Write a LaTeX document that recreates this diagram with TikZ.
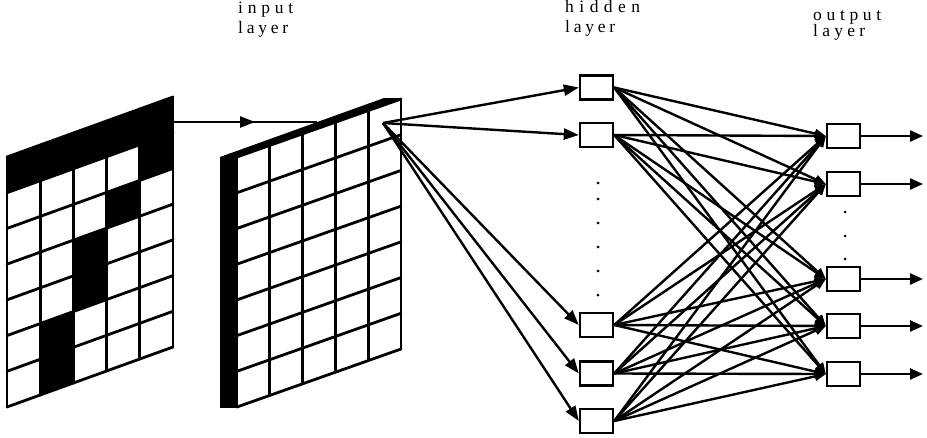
\documentclass[tikz,border=0pt]{standalone}
\usepackage{fontspec}
\setmainfont{Liberation Serif}
\usetikzlibrary{arrows.meta,decorations.markings}
\tikzset{
 unit/.style={draw, line width=2.4pt, minimum width=33pt, minimum height=24pt, inner sep=0pt, fill=white},
 conn/.style={line width=2.4pt},
 inarrow/.style={conn, -{Triangle[length=15pt,width=11pt]}},
 hoarrow/.style={conn, -{Triangle[length=11pt,width=9pt]}},
 outarrow/.style={conn, -{Triangle[length=13pt,width=11pt]}},
 lbl/.style={anchor=base west, inner sep=0pt, font=\fontsize{17.5}{19}\selectfont},
 gridline/.style={line width=2.8pt, line cap=round, line join=round},
 dotmark/.style={circle, fill=black, inner sep=0pt, minimum size=3pt},
}
\newcommand{\spacedword}[2]{\makebox[#1][s]{#2}}
\begin{document}
\begin{tikzpicture}[x=1pt,y=-1pt]
\useasboundingbox (0,0) rectangle (927,437);
% ---------- left (raw) grid ----------
\foreach \c/\r in {0/0,1/0,2/0,3/0,4/0,4/1,3/2,2/3,2/4,1/5,1/6} {
  \fill ({7+33.2*\c},{157-12*\c+35.714*\r}) -- ({7+33.2*(\c+1)},{157-12*(\c+1)+35.714*\r})
     -- ({7+33.2*(\c+1)},{157-12*(\c+1)+35.714*(\r+1)}) -- ({7+33.2*\c},{157-12*\c+35.714*(\r+1)}) -- cycle;
}
\foreach \c in {0,...,5} \draw[gridline] ({7+33.2*\c},{157-12*\c}) -- ({7+33.2*\c},{407-12*\c});
\foreach \r in {0,...,7} \draw[gridline] (7,{157+35.714*\r}) -- (173,{97+35.714*\r});
% ---------- input slab ----------
\fill (220,157) -- (237,157) -- (237,408) -- (220,408) -- cycle;
\fill (220,157) -- (384,98) -- (401,98) -- (237,157) -- cycle;
\foreach \c in {0,...,5} \draw[gridline] ({237+32.8*\c},{157-11.6*\c}) -- ({237+32.8*\c},{407-11.6*\c});
\foreach \r in {0,...,7} \draw[gridline] (237,{157+35.714*\r}) -- (401,{99+35.714*\r});
% ---------- arrow raw -> input ----------
\coordinate (la) at (173,122);
\coordinate (lb) at (317,122);
\draw[conn, postaction={decorate}, decoration={markings, mark=at position 0.57 with {\arrow{Triangle[length=15pt,width=11pt]}}}] (la) -- (lb);
% ---------- hidden and output units ----------
\node[unit] (h1) at (596.5,87.5) {};
\node[unit] (h2) at (596.5,135) {};
\node[unit] (h3) at (596.5,325) {};
\node[unit] (h4) at (596.5,373.5) {};
\node[unit] (h5) at (596.5,421) {};
\node[unit] (o1) at (843.5,136) {};
\node[unit] (o2) at (843.5,184) {};
\node[unit] (o3) at (843.5,279) {};
\node[unit] (o4) at (843.5,326) {};
\node[unit] (o5) at (843.5,374) {};
\foreach \y [count=\k] in {183,199,223,247,271,295} \node[dotmark] (hd\k) at (598,\y) {};
\foreach \y [count=\k] in {212,236,259} \node[dotmark] (od\k) at (845,\y) {};
% ---------- connectors ----------
\coordinate (src) at (383,123);
\foreach \i in {1,...,5} \draw[inarrow] (src) -- (h\i.west);
\foreach \i in {1,...,5} \foreach \j in {1,...,5} \draw[hoarrow] (h\i.east) -- (o\j.west);
\foreach \y [count=\k] in {136,184,279,326,374} {
  \coordinate (e\k) at (923,\y);
  \draw[outarrow] (o\k.east) -- (e\k);
}
% ---------- labels ----------
\node[lbl] (in1) at (238,13) {\spacedword{55pt}{i\hfil n\hfil p\hfil u\hfil t}};
\node[lbl] (in2) at (238,33) {\spacedword{50pt}{l\hfil a\hfil y\hfil e\hfil r}};
\node[lbl] (hi1) at (565,12.5) {\spacedword{75pt}{h\hfil i\hfil d\hfil d\hfil e\hfil n}};
\node[lbl] (hi2) at (565,32) {\spacedword{50pt}{l\hfil a\hfil y\hfil e\hfil r}};
\node[lbl] (ou1) at (813,20.7) {\spacedword{68pt}{o\hfil u\hfil t\hfil p\hfil u\hfil t}};
\node[lbl] (ou2) at (813,36.7) {\spacedword{52pt}{l\hfil a\hfil y\hfil e\hfil r}};
\end{tikzpicture}
\end{document}
